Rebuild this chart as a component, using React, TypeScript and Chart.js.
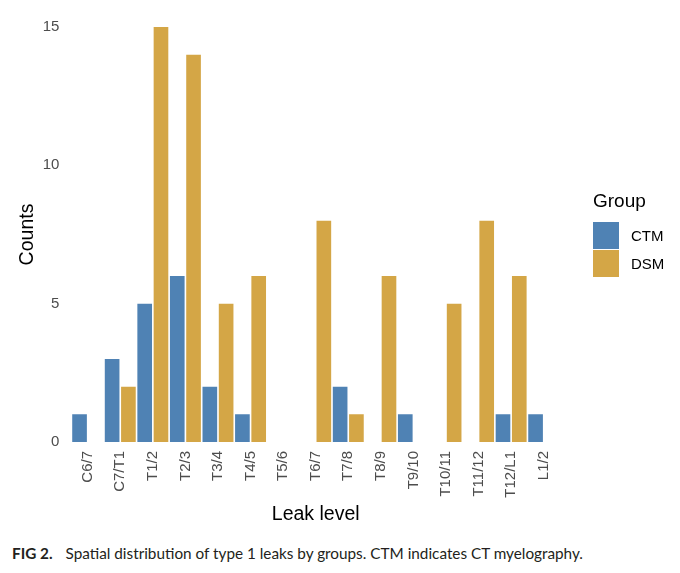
import { useEffect, useRef } from "react";
import { Chart, registerables } from "chart.js";

Chart.register(...registerables);

const levels = [
  "C6/7", "C7/T1", "T1/2", "T2/3", "T3/4", "T4/5", "T5/6", "T6/7",
  "T7/8", "T8/9", "T9/10", "T10/11", "T11/12", "T12/L1", "L1/2",
];
const ctmCounts = [1, 3, 5, 6, 2, 1, 0, 0, 2, 0, 1, 0, 0, 1, 1];
const dsmCounts = [0, 2, 15, 14, 5, 6, 0, 8, 1, 6, 0, 5, 8, 6, 0];
const yTicks = [0, 5, 10, 15];

const groups = [
  { label: "CTM", data: ctmCounts, color: "#4f82b4" },
  { label: "DSM", data: dsmCounts, color: "#d4a646" },
];

const axisFont = "'Liberation Sans', Arial, sans-serif";

export default function App() {
  const canvasRef = useRef<HTMLCanvasElement>(null);
  const chartRef = useRef<Chart | null>(null);

  useEffect(() => {
    if (!canvasRef.current) return;
    if (chartRef.current) chartRef.current.destroy();

    chartRef.current = new Chart(canvasRef.current, {
      type: "bar",
      data: {
        labels: levels,
        datasets: groups.map((g) => ({
          label: g.label,
          data: g.data,
          backgroundColor: g.color,
          borderWidth: 0,
          categoryPercentage: 1,
          barPercentage: 0.9,
        })),
      },
      options: {
        responsive: true,
        maintainAspectRatio: false,
        animation: false,
        layout: { padding: { left: 8, right: 120, top: 27, bottom: 0 } },
        plugins: {
          legend: { display: false },
          tooltip: { enabled: false },
        },
        scales: {
          x: {
            grid: { display: false, drawTicks: false },
            border: { display: false },
            ticks: {
              color: "#4d4d4d",
              font: { family: axisFont, size: 15 },
              minRotation: 90,
              maxRotation: 90,
              autoSkip: false,
              padding: 9,
            },
            title: {
              display: true,
              text: "Leak level",
              color: "#000",
              font: { family: axisFont, size: 19.5 },
              padding: { top: 0, bottom: 9 },
            },
            afterFit: (scale) => {
              scale.height = 93;
            },
          },
          y: {
            min: 0,
            max: 15,
            grid: { display: false, drawTicks: false },
            border: { display: false },
            afterBuildTicks: (scale) => {
              scale.ticks = yTicks.map((v) => ({ value: v }));
            },
            ticks: {
              color: "#4d4d4d",
              font: { family: axisFont, size: 15 },
              padding: 12,
            },
            title: {
              display: true,
              text: "Counts",
              color: "#000",
              font: { family: axisFont, size: 19.5 },
              padding: { top: 8, bottom: 0 },
            },
            afterFit: (scale) => {
              scale.width = 63.4;
            },
          },
        },
      },
    });

    return () => {
      if (chartRef.current) {
        chartRef.current.destroy();
        chartRef.current = null;
      }
    };
  }, []);

  return (
    <div style={{ position: "absolute", left: 0, top: 0, width: 680, height: 573, background: "#fff" }}>
      <div style={{ position: "relative", width: 680, height: 535 }}>
        <canvas ref={canvasRef}></canvas>
      </div>
      <div style={{ position: "absolute", left: 593, top: 190, fontFamily: axisFont, color: "#000" }}>
        <div style={{ fontSize: 19, lineHeight: "22px", marginBottom: 9 }}>Group</div>
        {groups.map((g) => (
          <div key={g.label} style={{ display: "flex", alignItems: "center", height: 28 }}>
            <div style={{ width: 26, height: 27, background: g.color, marginRight: 12 }}></div>
            <span style={{ fontSize: 15 }}>{g.label}</span>
          </div>
        ))}
      </div>
      <div
        style={{
          position: "absolute",
          left: 12,
          top: 544,
          fontFamily: "Lato, 'Open Sans', sans-serif",
          fontSize: 15.3,
          color: "#231f20",
          whiteSpace: "nowrap",
        }}
      >
        <span style={{ fontWeight: 700, marginRight: 13 }}>FIG 2.</span>
        Spatial distribution of type 1 leaks by groups. CTM indicates CT myelography.
      </div>
    </div>
  );
}
